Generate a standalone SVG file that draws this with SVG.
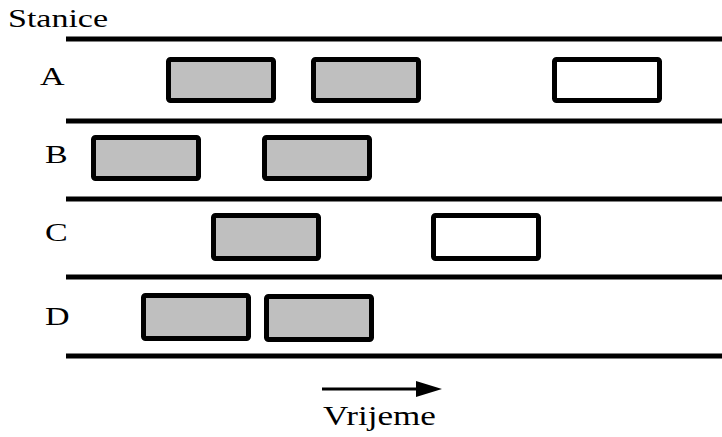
<svg xmlns="http://www.w3.org/2000/svg" width="722" height="437" viewBox="0 0 722 437">
<style>
text{font-family:'Liberation Serif', 'Times New Roman', serif;fill:#000;}
.lane{stroke:#000;stroke-width:5;fill:none;}
.job{stroke:#000;stroke-width:5;fill:#bfbfbf;}
.free{stroke:#000;stroke-width:5;fill:#fff;}
</style>
<rect width="722" height="437" fill="#fff"/>
<text transform="translate(8,27) scale(1.36,1)" font-size="25">Stanice</text>
<g id="lanes">
<line class="lane" x1="66" y1="39" x2="722" y2="39"/>
<line class="lane" x1="66" y1="121" x2="722" y2="121"/>
<line class="lane" x1="66" y1="199" x2="722" y2="199"/>
<line class="lane" x1="66" y1="277" x2="722" y2="277"/>
<line class="lane" x1="66" y1="356" x2="722" y2="356"/>
</g>
<g id="rowA">
<text transform="translate(40,85) scale(1.36,1)" font-size="25">A</text>
<rect id="A1" class="job" x="168.5" y="59.5" width="105" height="41" rx="2"/>
<rect id="A2" class="job" x="313.5" y="59.5" width="105" height="41" rx="2"/>
<rect id="A3" class="free" x="554.5" y="59.5" width="105" height="41" rx="2"/>
</g>
<g id="rowB">
<text transform="translate(45,163) scale(1.36,1)" font-size="25">B</text>
<rect id="B1" class="job" x="93.5" y="137.5" width="105" height="41" rx="2"/>
<rect id="B2" class="job" x="264.5" y="137.5" width="105" height="41" rx="2"/>
</g>
<g id="rowC">
<text transform="translate(45,241) scale(1.36,1)" font-size="25">C</text>
<rect id="C1" class="job" x="213.5" y="215.5" width="105" height="43" rx="2"/>
<rect id="C2" class="free" x="433.5" y="215.5" width="105" height="43" rx="2"/>
</g>
<g id="rowD">
<text transform="translate(45,325) scale(1.36,1)" font-size="25">D</text>
<rect id="D1" class="job" x="143.5" y="295.5" width="105" height="43" rx="2"/>
<rect id="D2" class="job" x="266.5" y="296.5" width="105" height="43" rx="2"/>
</g>
<g id="connectors">
<line x1="322" y1="389" x2="420" y2="389" stroke="#000" stroke-width="3"/>
<polygon points="416,381 442,389 416,397" fill="#000"/>
</g>
<text transform="translate(323,425) scale(1.3,1)" font-size="27">Vrijeme</text>
</svg>
